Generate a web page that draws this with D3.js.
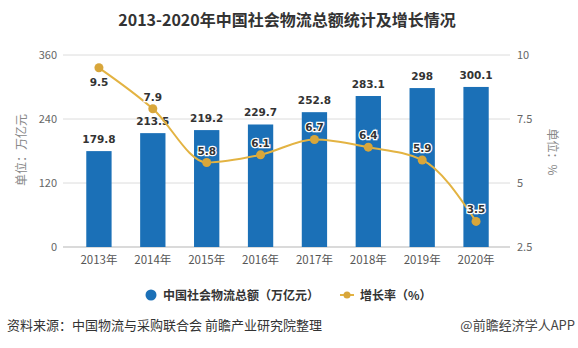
<!DOCTYPE html>
<html>
<head>
<meta charset="utf-8">
<script src="https://cdn.jsdelivr.net/npm/d3@7"></script>
<style>
  body { margin: 0; background: #fff; }
  svg { display: block; font-family: "Noto Sans CJK SC", "Liberation Sans", sans-serif; }
</style>
</head>
<body>
<svg id="chart" width="578" height="348"></svg>
<script>
// Data
var years = ["2013年", "2014年", "2015年", "2016年", "2017年", "2018年", "2019年", "2020年"];
var totals = [179.8, 213.5, 219.2, 229.7, 252.8, 283.1, 298, 300.1];   // 万亿元
var growth = [9.5, 7.9, 5.8, 6.1, 6.7, 6.4, 5.9, 3.5];                  // %
var leftTicks = [0, 120, 240, 360];
var rightTicks = [2.5, 5, 7.5, 10];

var barColor = "#1b70b7";
var lineColor = "#e3b342";
var dotColor = "#d8a63a";

var svg = d3.select("#chart");

var x = d3.scaleBand().domain(years).range([72, 503]).paddingInner(0.53).paddingOuter(0.265);
var yL = d3.scaleLinear().domain([0, 360]).range([247, 55]);
var yR = d3.scaleLinear().domain([2.5, 10]).range([247, 55]);

// Title
svg.append("text")
    .attr("x", 287).attr("y", 26)
    .attr("text-anchor", "middle")
    .attr("font-size", 16).attr("font-weight", "bold")
    .attr("fill", "#333")
    .text("2013-2020年中国社会物流总额统计及增长情况");

// Grid lines
svg.append("g").selectAll("line")
    .data(leftTicks.filter(function(d) { return d > 0; }))
    .join("line")
    .attr("x1", 63).attr("x2", 510)
    .attr("y1", function(d) { return yL(d); })
    .attr("y2", function(d) { return yL(d); })
    .attr("stroke", "#dcdcdc").attr("stroke-width", 1);

svg.append("line")
    .attr("x1", 63).attr("x2", 510)
    .attr("y1", yL(0)).attr("y2", yL(0))
    .attr("stroke", "#b5b5b5");

// Left axis
var leftAxis = svg.append("g")
    .attr("transform", "translate(57,0)")
    .call(d3.axisLeft(yL).tickValues(leftTicks).tickSize(0).tickPadding(0));
leftAxis.select(".domain").remove();
leftAxis.selectAll("text").attr("font-size", 11).attr("fill", "#666").attr("font-family", "Noto Sans CJK SC");

// Right axis
var rightAxis = svg.append("g")
    .attr("transform", "translate(517,0)")
    .call(d3.axisRight(yR).tickValues(rightTicks).tickSize(0).tickPadding(0).tickFormat(d3.format("")));
rightAxis.select(".domain").remove();
rightAxis.selectAll("text").attr("font-size", 11).attr("fill", "#666").attr("font-family", "Noto Sans CJK SC");

// Bottom axis
var bottomAxis = svg.append("g")
    .attr("transform", "translate(0," + yL(0) + ")")
    .call(d3.axisBottom(x).tickSize(0).tickPadding(9));
bottomAxis.select(".domain").remove();
bottomAxis.selectAll("text").attr("font-size", 11.5).attr("fill", "#555").attr("font-family", "Noto Sans CJK SC");

// Axis titles
svg.append("text")
    .attr("transform", "translate(26,150) rotate(-90)")
    .attr("text-anchor", "middle")
    .attr("font-size", 12).attr("fill", "#888")
    .text("单位：万亿元");
svg.append("text")
    .attr("transform", "translate(548,152) rotate(90)")
    .attr("text-anchor", "middle")
    .attr("font-size", 12).attr("fill", "#888")
    .text("单位：%");

// Bars
svg.append("g").selectAll("rect")
    .data(totals)
    .join("rect")
    .attr("x", function(d, i) { return x(years[i]); })
    .attr("y", function(d) { return yL(d); })
    .attr("width", x.bandwidth())
    .attr("height", function(d) { return yL(0) - yL(d); })
    .attr("fill", barColor);

// Bar value labels
svg.append("g").selectAll("text")
    .data(totals)
    .join("text")
    .attr("x", function(d, i) { return x(years[i]) + x.bandwidth() / 2; })
    .attr("y", function(d) { return yL(d) - 8; })
    .attr("text-anchor", "middle")
    .attr("font-family", "DejaVu Sans")
    .attr("font-size", 10.5).attr("font-weight", "bold")
    .attr("fill", "#333")
    .text(function(d) { return d; });

// Growth line
var line = d3.line()
    .x(function(d, i) { return x(years[i]) + x.bandwidth() / 2; })
    .y(function(d) { return yR(d); })
    .curve(d3.curveMonotoneX);

svg.append("path")
    .datum(growth)
    .attr("d", line)
    .attr("fill", "none")
    .attr("stroke", lineColor)
    .attr("stroke-width", 2);

svg.append("g").selectAll("circle")
    .data(growth)
    .join("circle")
    .attr("cx", function(d, i) { return x(years[i]) + x.bandwidth() / 2; })
    .attr("cy", function(d) { return yR(d); })
    .attr("r", 4.5)
    .attr("fill", dotColor);

// Growth labels; the first one sits under its point to clear the bar label
svg.append("g").selectAll("text")
    .data(growth)
    .join("text")
    .attr("x", function(d, i) { return x(years[i]) + x.bandwidth() / 2; })
    .attr("y", function(d, i) { return yR(d) + (i === 0 ? 18 : -8); })
    .attr("text-anchor", "middle")
    .attr("font-family", "DejaVu Sans")
    .attr("font-size", 10.5).attr("font-weight", "bold")
    .attr("fill", "#333")
    .attr("stroke", "#fff").attr("stroke-width", 2.5)
    .attr("paint-order", "stroke")
    .text(function(d) { return d; });

// Legend
var legend = svg.append("g").attr("font-size", 12).attr("font-weight", "bold").attr("fill", "#333");
legend.append("circle").attr("cx", 151).attr("cy", 295).attr("r", 5.5).attr("fill", barColor);
legend.append("text").attr("x", 163).attr("y", 299.5).text("中国社会物流总额（万亿元）");
legend.append("line").attr("x1", 340).attr("x2", 354).attr("y1", 295).attr("y2", 295)
    .attr("stroke", lineColor).attr("stroke-width", 2);
legend.append("circle").attr("cx", 347).attr("cy", 295).attr("r", 3.5).attr("fill", dotColor);
legend.append("text").attr("x", 360).attr("y", 299.5).text("增长率（%）");

// Footer
svg.append("text")
    .attr("x", 7).attr("y", 330)
    .attr("font-size", 13).attr("fill", "#333")
    .text("资料来源：中国物流与采购联合会 前瞻产业研究院整理");
svg.append("text")
    .attr("x", 575).attr("y", 330)
    .attr("text-anchor", "end")
    .attr("font-size", 13).attr("fill", "#444")
    .text("@前瞻经济学人APP");
</script>
</body>
</html>
